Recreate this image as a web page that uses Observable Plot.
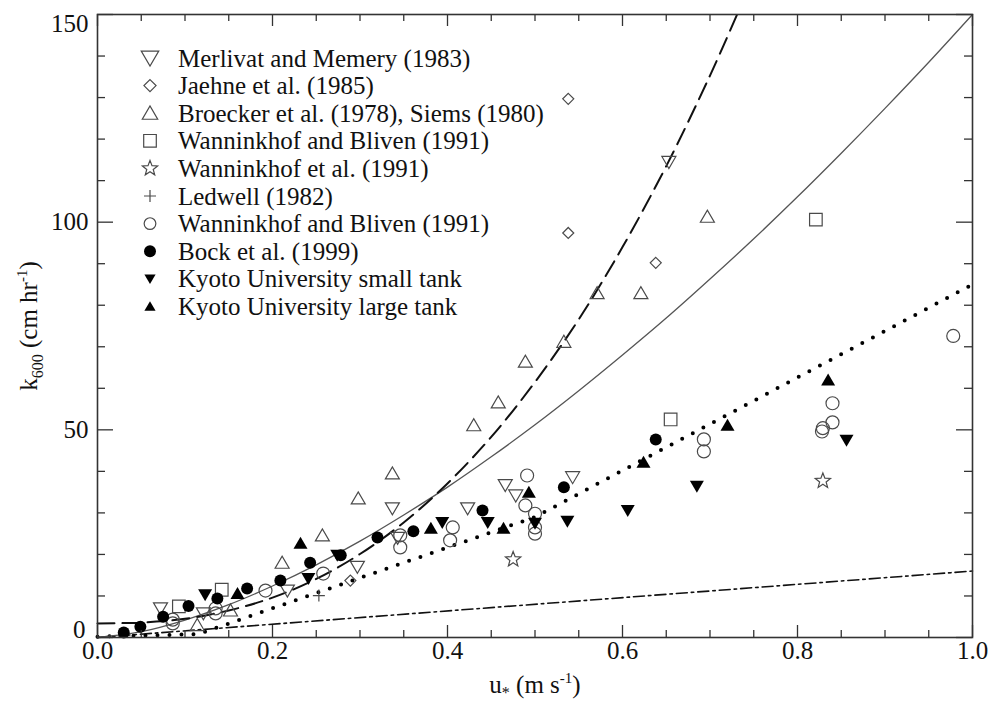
<!DOCTYPE html>
<html><head><meta charset="utf-8">
<script src="https://cdn.jsdelivr.net/npm/d3@7"></script>
<script src="https://cdn.jsdelivr.net/npm/@observablehq/plot@0.6"></script>
<style>
body{margin:0;background:#fff;}
#chart{width:992px;height:704px;}
</style></head><body><div id="chart"></div>
<script>
// ---------- data (u* in m/s, k600 in cm/hr) ----------
const merlivatMemery1983 = [[0.072,7.0],[0.121,5.8],[0.217,11.3],[0.297,17.0],[0.337,31.1],[0.343,24.0],[0.423,31.1],[0.466,36.7],[0.478,34.2],[0.543,38.6],[0.653,114.5]];
const jaehne1985 = [[0.289,13.7],[0.538,97.4],[0.538,129.7],[0.638,90.2]];
const broeckerSiems = [[0.114,3.0],[0.152,6.5],[0.211,18.0],[0.257,24.6],[0.298,33.5],[0.337,39.5],[0.430,51.1],[0.458,56.6],[0.489,66.4],[0.533,71.2],[0.571,82.9],[0.621,82.9],[0.697,101.3]];
const wanninkhofBlivenSq = [[0.093,7.5],[0.142,11.5],[0.655,52.5],[0.821,100.6]];
const wanninkhofEtAl1991 = [[0.475,18.8],[0.829,37.7]];
const ledwell1982 = [[0.253,10.1]];
const wanninkhofBlivenCi = [[0.086,3.4],[0.086,4.3],[0.135,5.8],[0.135,7.0],[0.192,11.3],[0.258,15.4],[0.346,21.7],[0.346,24.6],[0.403,23.4],[0.406,26.5],[0.489,31.8],[0.491,39.0],[0.500,25.0],[0.500,26.5],[0.500,29.8],[0.693,44.8],[0.693,47.7],[0.828,49.6],[0.829,50.4],[0.840,51.8],[0.840,56.4],[0.978,72.6]];
const bock1999 = [[0.030,1.2],[0.049,2.6],[0.075,5.0],[0.104,7.6],[0.137,9.4],[0.171,11.8],[0.209,13.7],[0.243,18.0],[0.278,19.8],[0.320,24.1],[0.361,25.6],[0.440,30.6],[0.533,36.2],[0.638,47.7]];
const kyotoSmall = [[0.123,10.3],[0.241,14.2],[0.274,19.8],[0.394,27.7],[0.446,27.7],[0.500,27.5],[0.537,28.0],[0.606,30.6],[0.685,36.4],[0.856,47.5]];
const kyotoLarge = [[0.160,10.6],[0.232,22.7],[0.381,26.3],[0.464,26.3],[0.493,35.0],[0.624,42.2],[0.720,51.1],[0.835,62.0]];

const seriesNames = ["Merlivat and Memery (1983)","Jaehne et al. (1985)","Broecker et al. (1978), Siems (1980)","Wanninkhof and Bliven (1991)","Wanninkhof et al. (1991)","Ledwell (1982)","Wanninkhof and Bliven (1991)","Bock et al. (1999)","Kyoto University small tank","Kyoto University large tank"];

// curves
const dashedCurve = [[0,3.4],[0.05,3.6],[0.1,4.5],[0.15,6.5],[0.2,9.6],[0.25,14.1],[0.3,20.1],[0.35,27.7],[0.4,37.1],[0.45,48.3],[0.5,61.5],[0.55,76.6],[0.6,94.0],[0.65,113.5],[0.7,135.3],[0.731,150]];
const solidCurve = [[0,0],[0.05,1.4],[0.1,4.2],[0.15,7.9],[0.2,12.4],[0.25,17.5],[0.3,23.2],[0.35,29.5],[0.4,36.2],[0.45,43.5],[0.5,51.2],[0.55,59.4],[0.6,68.0],[0.65,76.9],[0.7,86.3],[0.75,96.0],[0.8,106.1],[0.85,116.6],[0.9,127.4],[0.95,138.5],[1.0,150]];
const dottedCurve = [[0,0.2],[0.115,0.8],[0.5,29.0],[1.0,85.0]];
const dashDotCurve = [[0,0],[1.0,16.0]];

// ticks
const xMajorTicks = [0,0.2,0.4,0.6,0.8,1.0];
const xTickLabels = ["0.0","0.2","0.4","0.6","0.8","1.0"];
const xMinorTicks = [0.05,0.1,0.15,0.25,0.3,0.35,0.45,0.5,0.55,0.65,0.7,0.75,0.85,0.9,0.95];
const yMajorTicks = [0,50,100,150];
const yTickLabels = ["0","50","100","150"];
const yMinorTicks = [10,20,30,40,60,70,80,90,110,120,130,140];

// ---------- symbols ----------
function sym(fn){ return {draw: fn}; }
const shp = {
  tdown: s => sym(c => { c.moveTo(-7*s,-5.5*s); c.lineTo(7*s,-5.5*s); c.lineTo(0,6.5*s); c.closePath(); }),
  tup: s => sym(c => { c.moveTo(-7*s,5.5*s); c.lineTo(7*s,5.5*s); c.lineTo(0,-6.5*s); c.closePath(); }),
  diamond: s => sym(c => { c.moveTo(0,-5.5*s); c.lineTo(5.5*s,0); c.lineTo(0,5.5*s); c.lineTo(-5.5*s,0); c.closePath(); }),
  square: s => sym(c => { c.moveTo(-6.3*s,-6.3*s); c.lineTo(6.3*s,-6.3*s); c.lineTo(6.3*s,6.3*s); c.lineTo(-6.3*s,6.3*s); c.closePath(); }),
  star: s => sym(c => { for (let i=0;i<10;i++){ const a=-Math.PI/2+i*Math.PI/5, r=(i%2?3.4:8)*s; const px=r*Math.cos(a), py=r*Math.sin(a); if(i===0) c.moveTo(px,py); else c.lineTo(px,py);} c.closePath(); }),
  plus: s => sym(c => { c.moveTo(-6*s,0); c.lineTo(6*s,0); c.moveTo(0,-6*s); c.lineTo(0,6*s); }),
  circle: s => sym(c => { c.moveTo(6.5*s,0); c.arc(0,0,6.5*s,0,2*Math.PI); c.closePath(); }),
  fcircle: s => sym(c => { c.moveTo(6*s,0); c.arc(0,0,6*s,0,2*Math.PI); c.closePath(); }),
};
const GRAY = "#4a4a4a";
const styles = [
  {shape:"tdown", fill:"none", stroke:GRAY, ls:1.25},
  {shape:"diamond", fill:"none", stroke:GRAY, ls:1.1},
  {shape:"tup", fill:"none", stroke:GRAY, ls:1.1},
  {shape:"square", fill:"none", stroke:GRAY, ls:1.0},
  {shape:"star", fill:"none", stroke:GRAY, ls:1.0},
  {shape:"plus", fill:"none", stroke:GRAY, ls:1.0},
  {shape:"circle", fill:"none", stroke:GRAY, ls:0.9},
  {shape:"fcircle", fill:"#000", stroke:"none", ls:1.0},
  {shape:"tdown", fill:"#000", stroke:"none", ls:0.8},
  {shape:"tup", fill:"#000", stroke:"none", ls:0.8},
];
const seriesData = [merlivatMemery1983, jaehne1985, broeckerSiems, wanninkhofBlivenSq, wanninkhofEtAl1991, ledwell1982, wanninkhofBlivenCi, bock1999, kyotoSmall, kyotoLarge];

// ---------- layout ----------
const W=992, H=704, mL=97, mR=20, mT=14, mB=67;
const fw=W-mL-mR, fh=H-mT-mB;
const FONT='"Liberation Serif","Times New Roman",Times,serif';
const TICK="#333";

const dotMarks = seriesData.map((data,i) => Plot.dot(data, {
  x: d=>d[0], y: d=>d[1], r: 7,
  symbol: shp[styles[i].shape](1),
  fill: styles[i].fill, stroke: styles[i].stroke, strokeWidth: 1.2
}));

const plot = Plot.plot({
  width: W, height: H, marginLeft: mL, marginRight: mR, marginTop: mT, marginBottom: mB,
  style: {fontFamily: FONT, background: "#fff", overflow: "visible"},
  x: {domain:[0,1], axis: null},
  y: {domain:[0,150], axis: null},
  marks: [
    Plot.line(dashDotCurve, {x:d=>d[0], y:d=>d[1], stroke:"#111", strokeWidth:1.6, strokeDasharray:"11,4,2.5,4"}),
    Plot.line(dottedCurve, {x:d=>d[0], y:d=>d[1], stroke:"#000", strokeWidth:4, strokeLinecap:"round", strokeDasharray:"0,12"}),
    Plot.line(solidCurve, {x:d=>d[0], y:d=>d[1], curve:"catmull-rom", stroke:"#555", strokeWidth:1.3}),
    Plot.line(dashedCurve, {x:d=>d[0], y:d=>d[1], curve:"catmull-rom", stroke:"#111", strokeWidth:2, strokeDasharray:"17,8"}),
    ...dotMarks,
    // ticks (inward, all four sides)
    Plot.tickX(xMinorTicks, {x:d=>d, insetTop: fh-7, stroke:TICK, strokeWidth:1.3}),
    Plot.tickX(xMinorTicks, {x:d=>d, insetBottom: fh-7, stroke:TICK, strokeWidth:1.3}),
    Plot.tickX(xMajorTicks, {x:d=>d, insetTop: fh-12, stroke:TICK, strokeWidth:1.3}),
    Plot.tickX(xMajorTicks, {x:d=>d, insetBottom: fh-12, stroke:TICK, strokeWidth:1.3}),
    Plot.tickY(yMinorTicks, {y:d=>d, insetRight: fw-8, stroke:TICK, strokeWidth:1.3}),
    Plot.tickY(yMinorTicks, {y:d=>d, insetLeft: fw-8, stroke:TICK, strokeWidth:1.3}),
    Plot.tickY(yMajorTicks, {y:d=>d, insetRight: fw-16, stroke:TICK, strokeWidth:1.3}),
    Plot.tickY(yMajorTicks, {y:d=>d, insetLeft: fw-16, stroke:TICK, strokeWidth:1.3}),
    Plot.frame({stroke:"#333", strokeWidth:1.6}),
    // tick labels
    Plot.text(xMajorTicks, {x:d=>d, text:(d,i)=>xTickLabels[i], frameAnchor:"bottom", dy:21, fontSize:25, fill:"#111"}),
    Plot.text(yMajorTicks, {filter:d=>d===50||d===100, y:d=>d, text:d=>yTickLabels[yMajorTicks.indexOf(d)], frameAnchor:"left", dx:-9, textAnchor:"end", fontSize:25, fill:"#111"}),
    Plot.text(yMajorTicks, {filter:d=>d===150, y:d=>d, text:d=>yTickLabels[yMajorTicks.indexOf(d)], frameAnchor:"left", dx:-9, dy:9, textAnchor:"end", fontSize:25, fill:"#111"}),
    Plot.text(yMajorTicks, {filter:d=>d===0, y:d=>d, text:d=>yTickLabels[yMajorTicks.indexOf(d)], frameAnchor:"left", dx:-12, dy:-8, textAnchor:"end", fontSize:25, fill:"#111"}),
  ]
});
document.getElementById("chart").appendChild(plot);

// ---------- axis titles & legend ----------
const svg = d3.select(plot);
const yl = svg.append("text").attr("transform","translate(37,326) rotate(-90)")
  .attr("text-anchor","middle").attr("font-family",FONT).attr("font-size",25).attr("fill","#111");
yl.append("tspan").text("k");
yl.append("tspan").attr("font-size",16).attr("dy",6).text("600");
yl.append("tspan").attr("dy",-6).text(" (cm hr");
yl.append("tspan").attr("font-size",15).attr("dy",-10).text("-1");
yl.append("tspan").attr("dy",10).text(")");

const xl = svg.append("text").attr("x",535).attr("y",693)
  .attr("text-anchor","middle").attr("font-family",FONT).attr("font-size",25).attr("fill","#111");
xl.append("tspan").text("u");
xl.append("tspan").attr("font-size",16).attr("dy",5).text("*");
xl.append("tspan").attr("dy",-5).text(" (m s");
xl.append("tspan").attr("font-size",15).attr("dy",-10).text("-1");
xl.append("tspan").attr("dy",10).text(")");

const lg = svg.append("g").attr("text-anchor","start");
seriesNames.forEach((name,i) => {
  const y = 58 + i*27.6;
  const st = styles[i];
  const p = d3.path();
  shp[st.shape](st.ls).draw(p);
  lg.append("path").attr("d", p.toString()).attr("transform",`translate(150,${y})`)
    .attr("fill", st.fill).attr("stroke", st.stroke).attr("stroke-width",1.2);
  lg.append("text").attr("x",178).attr("y",y).attr("dy","0.34em").attr("text-anchor","start")
    .attr("font-family",FONT).attr("font-size",25).attr("fill","#111").text(name);
});
</script>
</body></html>
